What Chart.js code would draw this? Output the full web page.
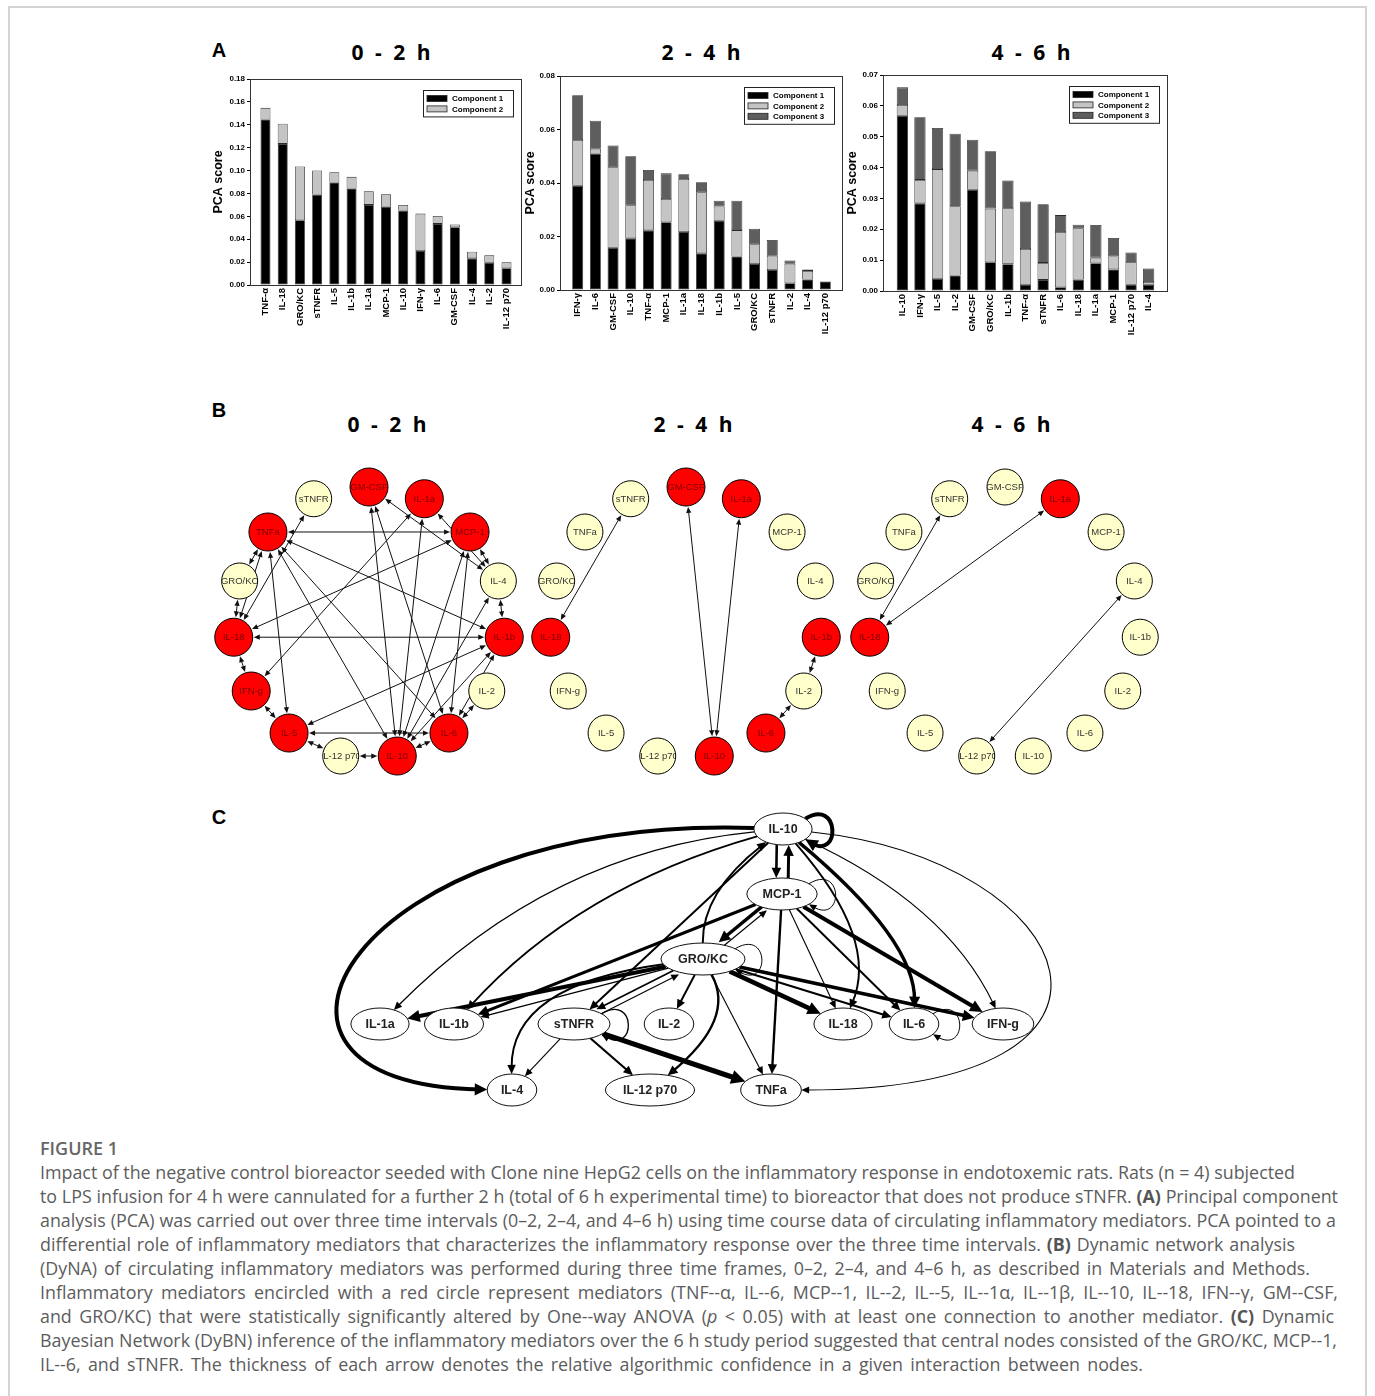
<!DOCTYPE html>
<html>
<head>
<meta charset="utf-8">
<title>Figure 1</title>
<script src="https://cdn.jsdelivr.net/npm/chart.js@4.4.1/dist/chart.umd.min.js"></script>
<style>
  html, body { margin: 0; padding: 0; background: #fff; }
  body { width: 1375px; height: 1396px; position: relative; overflow: hidden; font-family: 'Open Sans', sans-serif; }
  .frame { position: absolute; left: 8px; top: 6px; width: 1359px; height: 1420px; border: 2px solid #d4d4d4; box-sizing: border-box; }
  canvas { position: absolute; }
  .letter { position: absolute; font: bold 20px 'Liberation Sans', Arial, sans-serif; color: #000; transform: translate(-50%, -50%); }
  .ttl { position: absolute; font: bold 21px 'Open Sans', sans-serif; word-spacing: 6px; color: #000; transform: translate(-50%, -50%); white-space: nowrap; }
  .cap-head { position: absolute; left: 40px; top: 1136px; font: 600 18px/24px 'Open Sans', sans-serif; color: #666; }
  .cap { position: absolute; left: 40px; top: 1160px; font-family: 'Open Sans', sans-serif; font-size: 17px; line-height: 24px; color: #5c5c5c; }
  .cap div { white-space: nowrap; height: 24px; }
  .cap b { font-weight: 700; color: #555; }
</style>
</head>
<body>
<div class="frame"></div>

<div class="letter" style="left:219px;top:50px">A</div>
<div class="ttl" style="left:391px;top:52px">0 - 2 h</div>
<div class="ttl" style="left:701px;top:52px">2 - 4 h</div>
<div class="ttl" style="left:1031px;top:52px">4 - 6 h</div>

<div class="letter" style="left:219px;top:410px">B</div>
<div class="ttl" style="left:387px;top:424px">0 - 2 h</div>
<div class="ttl" style="left:693px;top:424px">2 - 4 h</div>
<div class="ttl" style="left:1011px;top:424px">4 - 6 h</div>

<div class="letter" style="left:219px;top:817px">C</div>

<canvas id="pca02" width="325" height="275" style="left:205px;top:66px"></canvas>
<canvas id="pca24" width="330" height="280" style="left:520px;top:62px"></canvas>
<canvas id="pca46" width="335" height="280" style="left:840px;top:62px"></canvas>

<canvas id="dyna02" width="340" height="340" style="left:199px;top:453px"></canvas>
<canvas id="dyna24" width="340" height="340" style="left:516px;top:453px"></canvas>
<canvas id="dyna46" width="340" height="340" style="left:835px;top:453px"></canvas>

<canvas id="dybn" width="800" height="320" style="left:320px;top:800px"></canvas>

<div class="cap-head">FIGURE 1</div>
<div class="cap" id="cap">
  <div data-w="1255"><span>Impact of the negative control bioreactor seeded with Clone nine HepG2 cells on the inflammatory response in endotoxemic rats. Rats (n = 4) subjected</span></div>
  <div data-w="1298"><span>to LPS infusion for 4 h were cannulated for a further 2 h (total of 6 h experimental time) to bioreactor that does not produce sTNFR. <b>(A)</b> Principal component</span></div>
  <div data-w="1296"><span>analysis (PCA) was carried out over three time intervals (0–2, 2–4, and 4–6 h) using time course data of circulating inflammatory mediators. PCA pointed to a</span></div>
  <div data-w="1255"><span>differential role of inflammatory mediators that characterizes the inflammatory response over the three time intervals. <b>(B)</b> Dynamic network analysis</span></div>
  <div data-w="1270"><span>(DyNA) of circulating inflammatory mediators was performed during three time frames, 0–2, 2–4, and 4–6 h, as described in Materials and Methods.</span></div>
  <div data-w="1298"><span>Inflammatory mediators encircled with a red circle represent mediators (TNF--α, IL--6, MCP--1, IL--2, IL--5, IL--1α, IL--1β, IL--10, IL--18, IFN--γ, GM--CSF,</span></div>
  <div data-w="1294"><span>and GRO/KC) that were statistically significantly altered by One--way ANOVA (<i>p</i> &lt; 0.05) with at least one connection to another mediator. <b>(C)</b> Dynamic</span></div>
  <div data-w="1297"><span>Bayesian Network (DyBN) inference of the inflammatory mediators over the 6 h study period suggested that central nodes consisted of the GRO/KC, MCP--1,</span></div>
  <div data-w="1103"><span>IL--6, and sTNFR. The thickness of each arrow denotes the relative algorithmic confidence in a given interaction between nodes.</span></div>
</div>

<script>
'use strict';

// ── Panel A: PCA scores (segment heights per component) ──
const labels02 = ['TNF-α', 'IL-18', 'GRO/KC', 'sTNFR', 'IL-5', 'IL-1b', 'IL-1a', 'MCP-1', 'IL-10', 'IFN-γ', 'IL-6', 'GM-CSF', 'IL-4', 'IL-2', 'IL-12 p70'];
const comp1_02 = [0.1446, 0.1233, 0.0566, 0.0790, 0.0895, 0.0843, 0.0700, 0.0685, 0.0650, 0.0297, 0.0534, 0.0504, 0.0233, 0.0195, 0.0146];
const comp2_02 = [0.0102, 0.0177, 0.0469, 0.0210, 0.0090, 0.0102, 0.0119, 0.0108, 0.0050, 0.0327, 0.0070, 0.0024, 0.0057, 0.0064, 0.0052];
const yTicks02 = ['0.00', '0.02', '0.04', '0.06', '0.08', '0.10', '0.12', '0.14', '0.16', '0.18'];

const labels24 = ['IFN-γ', 'IL-6', 'GM-CSF', 'IL-10', 'TNF-α', 'MCP-1', 'IL-1a', 'IL-18', 'IL-1b', 'IL-5', 'GRO/KC', 'sTNFR', 'IL-2', 'IL-4', 'IL-12 p70'];
const comp1_24 = [0.0390, 0.0510, 0.0158, 0.0193, 0.0223, 0.0253, 0.0217, 0.0137, 0.0259, 0.0125, 0.0097, 0.0075, 0.0025, 0.0039, 0.0032];
const comp2_24 = [0.0171, 0.0018, 0.0301, 0.0124, 0.0188, 0.0087, 0.0198, 0.0228, 0.0053, 0.0099, 0.0074, 0.0053, 0.0073, 0.0032, 0.0000];
const comp3_24 = [0.0167, 0.0105, 0.0081, 0.0183, 0.0038, 0.0096, 0.0018, 0.0038, 0.0022, 0.0110, 0.0058, 0.0059, 0.0012, 0.0006, 0.0000];
const yTicks24 = ['0.00', '0.02', '0.04', '0.06', '0.08'];

const labels46 = ['IL-10', 'IFN-γ', 'IL-5', 'IL-2', 'GM-CSF', 'GRO/KC', 'IL-1b', 'TNF-α', 'sTNFR', 'IL-6', 'IL-18', 'IL-1a', 'MCP-1', 'IL-12 p70', 'IL-4'];
const comp1_46 = [0.0568, 0.0284, 0.0040, 0.0050, 0.0328, 0.0093, 0.0087, 0.0020, 0.0036, 0.0012, 0.0037, 0.0090, 0.0070, 0.0020, 0.0020];
const comp2_46 = [0.0035, 0.0076, 0.0355, 0.0225, 0.0062, 0.0174, 0.0182, 0.0116, 0.0055, 0.0179, 0.0166, 0.0018, 0.0042, 0.0074, 0.0009];
const comp3_46 = [0.0057, 0.0203, 0.0133, 0.0235, 0.0100, 0.0186, 0.0089, 0.0154, 0.0190, 0.0055, 0.0012, 0.0106, 0.0060, 0.0031, 0.0044];
const yTicks46 = ['0.00', '0.01', '0.02', '0.03', '0.04', '0.05', '0.06', '0.07'];

// ── Panel B: DyNA networks (circle order, significant nodes, links) ──
const dynaNodes = ['GM-CSF', 'IL-1a', 'MCP-1', 'IL-4', 'IL-1b', 'IL-2', 'IL-6', 'IL-10', 'IL-12 p70', 'IL-5', 'IFN-g', 'IL-18', 'GRO/KC', 'TNFa', 'sTNFR'];
const sig02 = ['GM-CSF', 'IL-1a', 'MCP-1', 'IL-1b', 'IL-6', 'IL-10', 'IL-5', 'IFN-g', 'IL-18', 'TNFa'];
const sig24 = ['GM-CSF', 'IL-1a', 'IL-1b', 'IL-6', 'IL-10', 'IL-18'];
const sig46 = ['IL-1a', 'IL-18'];
const links02 = [
  ['TNFa', 'MCP-1'], ['TNFa', 'IL-1b'], ['TNFa', 'IL-10'], ['TNFa', 'IL-6'], ['TNFa', 'IL-5'], ['TNFa', 'IL-18'],
  ['GRO/KC', 'TNFa'], ['GRO/KC', 'IL-18'], ['sTNFR', 'IL-18'],
  ['GM-CSF', 'IL-10'], ['GM-CSF', 'IL-6'], ['GM-CSF', 'IL-4'],
  ['IL-1a', 'IL-10'], ['IL-1a', 'IFN-g'], ['IL-1a', 'IL-4'],
  ['MCP-1', 'IL-18'], ['MCP-1', 'IL-10'], ['MCP-1', 'IL-6'], ['MCP-1', 'IL-4'],
  ['IL-4', 'IL-1b'], ['IL-4', 'IL-10'], ['IL-18', 'IL-1b'], ['IL-18', 'IFN-g'],
  ['IL-1b', 'IL-5'], ['IL-1b', 'IL-10'], ['IL-1b', 'IL-6'], ['IL-2', 'IL-6'],
  ['IL-5', 'IL-6'], ['IL-5', 'IL-12 p70'], ['IL-12 p70', 'IL-10'], ['IL-10', 'IL-6'], ['IFN-g', 'IL-5'],
];
const links24 = [['sTNFR', 'IL-18'], ['GM-CSF', 'IL-10'], ['IL-1a', 'IL-10'], ['IL-2', 'IL-1b'], ['IL-2', 'IL-6']];
const links46 = [['sTNFR', 'IL-18'], ['IL-1a', 'IL-18'], ['IL-4', 'IL-12 p70']];

// ── Panel C: DyBN (layout position, edges with relative confidence 0..1) ──
const dybnNodes = ['IL-10', 'MCP-1', 'GRO/KC', 'IL-1a', 'IL-1b', 'sTNFR', 'IL-2', 'IL-18', 'IL-6', 'IFN-g', 'IL-4', 'IL-12 p70', 'TNFa'];
const dybnX = [463, 462, 383, 60, 134, 254, 349, 523, 594, 683, 192, 330, 451];
const dybnY = [29, 94, 159, 224, 224, 224, 224, 224, 224, 224, 290, 290, 290];
const dybnEdges = [
  ['IL-10', 'IL-4', 0.75], ['IL-10', 'IL-1a', 0.1], ['IL-10', 'IL-1b', 0.25], ['IL-10', 'sTNFR', 0.25],
  ['GRO/KC', 'IL-10', 0.25], ['IL-10', 'MCP-1', 0.4], ['MCP-1', 'IL-10', 0.5],
  ['IL-10', 'IL-10', 0.75], ['MCP-1', 'MCP-1', 0.02], ['GRO/KC', 'GRO/KC', 0.02], ['sTNFR', 'sTNFR', 0.1], ['IL-6', 'IL-6', 0.02],
  ['MCP-1', 'GRO/KC', 0.6], ['GRO/KC', 'MCP-1', 0.05], ['MCP-1', 'IL-1b', 0.5], ['GRO/KC', 'IL-1a', 0.75],
  ['GRO/KC', 'IL-1b', 0.1], ['GRO/KC', 'sTNFR', 0.2], ['sTNFR', 'GRO/KC', 0.05], ['GRO/KC', 'IL-2', 0.25],
  ['GRO/KC', 'IL-4', 0.25], ['GRO/KC', 'IL-12 p70', 0.35], ['GRO/KC', 'TNFa', 0.05], ['MCP-1', 'TNFa', 0.35],
  ['MCP-1', 'IL-18', 0.05], ['MCP-1', 'IL-6', 0.25], ['MCP-1', 'IFN-g', 0.75], ['GRO/KC', 'IL-18', 0.85],
  ['GRO/KC', 'IL-6', 0.3], ['GRO/KC', 'IFN-g', 0.65], ['sTNFR', 'IL-4', 0.05], ['sTNFR', 'IL-12 p70', 0.3],
  ['sTNFR', 'TNFa', 1.0], ['IL-10', 'IL-18', 0.25], ['IL-10', 'IL-6', 0.6], ['IL-10', 'IFN-g', 0.05], ['IL-10', 'TNFa', 0.05],
];
// edge routing (control points in layout units, or parallel shift)
const dybnRoutes = {
  'IL-10>IL-4': { c: [[30, 15], [-120, 285]] },
  'IL-10>IL-1a': { c: [[230, 52]] },
  'IL-10>IL-1b': { c: [[258, 87]] },
  'GRO/KC>IL-10': { c: [[382, 92]] },
  'IL-10>MCP-1': { shift: 6 },
  'MCP-1>IL-10': { shift: 6 },
  'MCP-1>GRO/KC': { shift: 3 },
  'GRO/KC>MCP-1': { shift: 3 },
  'GRO/KC>sTNFR': { shift: 3 },
  'sTNFR>GRO/KC': { shift: 3 },
  'GRO/KC>IL-4': { c: [[190, 185]] },
  'GRO/KC>IL-12 p70': { c: [[416, 219]] },
  'IL-10>IL-18': { c: [[560, 140]] },
  'IL-10>IL-6': { c: [[596, 140]] },
  'IL-10>IFN-g': { c: [[626, 104]] },
  'IL-10>TNFa': { c: [[760, 60], [860, 290]] },
};

Chart.defaults.font.family = "'Liberation Sans', Arial, sans-serif";
Chart.defaults.color = '#000';
Chart.defaults.animation = false;
Chart.defaults.events = [];

// ── Shared plugins ───────────────────────────
const plotFrame = {
  id: 'plotFrame',
  afterDraw(chart) {
    const { ctx, chartArea: a } = chart;
    ctx.save();
    ctx.strokeStyle = '#333';
    ctx.lineWidth = 1;
    ctx.strokeRect(Math.round(a.left) + 0.5, Math.round(a.top) + 0.5, Math.round(a.width) - 1, Math.round(a.height));
    ctx.restore();
  },
};

const legendBox = {
  id: 'legendBox',
  afterDraw(chart) {
    const { ctx, chartArea: a } = chart;
    const sets = chart.data.datasets;
    const w = 90, rowH = 10.4;
    const h = 16 + rowH * (sets.length - 1);
    const x = Math.round(a.right - 9 - w), y = Math.round(a.top + 11);
    ctx.save();
    ctx.fillStyle = '#fff';
    ctx.fillRect(x, y, w, h);
    ctx.strokeStyle = '#222';
    ctx.lineWidth = 1;
    ctx.strokeRect(x + 0.5, y + 0.5, w, h);
    ctx.font = "bold 8px 'Liberation Sans', Arial, sans-serif";
    ctx.textBaseline = 'middle';
    sets.forEach((ds, i) => {
      const cy = y + 8.5 + rowH * i;
      ctx.fillStyle = ds.backgroundColor;
      ctx.fillRect(x + 4, cy - 3, 20, 6);
      ctx.lineWidth = 0.8;
      ctx.strokeRect(x + 4, cy - 3, 20, 6);
      ctx.fillStyle = '#000';
      ctx.fillText(ds.label, x + 29, cy + 0.5);
    });
    ctx.restore();
  },
};

// ── PCA stacked bar chart ────────────────────
function renderPcaChart(id, labels, comps, yTicks, xRange, box) {
  const fills = ['#000000', '#c4c4c4', '#5e5e5e'];
  return new Chart(document.getElementById(id), {
    type: 'bar',
    data: {
      datasets: comps.map((vals, k) => ({
        label: 'Component ' + (k + 1),
        data: vals.map((v, i) => ({ x: i, y: v })),
        backgroundColor: fills[k],
        borderColor: '#2a2a2a',
        borderWidth: 0.8,
        borderSkipped: false,
        categoryPercentage: 1,
        barPercentage: box.bar,
      })),
    },
    options: {
      responsive: false,
      layout: { padding: { top: box.top, right: box.right, left: 0, bottom: 0 } },
      plugins: { legend: { display: false }, tooltip: { enabled: false } },
      scales: {
        x: {
          type: 'linear', stacked: true, offset: false, bounds: 'data', min: xRange[0], max: xRange[1],
          grid: { display: false, drawTicks: false, offset: false }, border: { display: false },
          afterBuildTicks: s => { s.ticks = labels.map((_, i) => ({ value: i })); },
          afterFit: s => { s.height = box.xh; },
          ticks: {
            autoSkip: false, minRotation: 90, maxRotation: 90, padding: 3,
            font: { size: 9.5, weight: 'bold' }, callback: (v, i) => labels[i],
          },
        },
        y: {
          stacked: true, bounds: 'data', min: 0, max: +yTicks[yTicks.length - 1],
          grid: { drawOnChartArea: false, tickLength: 3, color: '#000' },
          border: { display: false },
          afterBuildTicks: s => { s.ticks = yTicks.map(t => ({ value: +t })); },
          afterFit: s => { s.width = box.yw; },
          ticks: { padding: 2, font: { size: 8, weight: 'bold' }, callback: (v, i) => yTicks[i] },
          title: {
            display: true, text: 'PCA score', color: '#000',
            font: { size: 12.5, weight: 'bold' }, padding: { top: box.tp, bottom: 0 },
          },
        },
      },
    },
    plugins: [plotFrame, legendBox],
  });
}

// ── Geometry helpers ─────────────────────────
function arrowHead(ctx, tip, from, len, hw) {
  const ang = Math.atan2(tip[1] - from[1], tip[0] - from[0]);
  const bx = tip[0] - len * Math.cos(ang), by = tip[1] - len * Math.sin(ang);
  ctx.beginPath();
  ctx.moveTo(tip[0], tip[1]);
  ctx.lineTo(bx + hw * Math.sin(ang), by - hw * Math.cos(ang));
  ctx.lineTo(bx - hw * Math.sin(ang), by + hw * Math.cos(ang));
  ctx.closePath();
  ctx.fill();
}

function ellipseHit(cx, cy, rx, ry, tx, ty) {
  const dx = tx - cx, dy = ty - cy;
  const t = 1 / Math.sqrt((dx * dx) / (rx * rx) + (dy * dy) / (ry * ry));
  return [cx + dx * t, cy + dy * t];
}

// ── DyNA circle network ──────────────────────
function makeDynaPlugin(links, sig) {
  return {
    id: 'dynaNet',
    beforeDatasetsDraw(chart) {
      const { ctx } = chart;
      const pts = chart.getDatasetMeta(0).data;
      const radius = i => pts[i].options.radius;
      ctx.save();
      ctx.strokeStyle = '#111';
      ctx.fillStyle = '#111';
      ctx.lineWidth = 1;
      links.forEach(([a, b]) => {
        const i = dynaNodes.indexOf(a), j = dynaNodes.indexOf(b);
        const p = pts[i], q = pts[j];
        const dx = q.x - p.x, dy = q.y - p.y, L = Math.hypot(dx, dy);
        const ux = dx / L, uy = dy / L;
        const s = [p.x + ux * (radius(i) + 1), p.y + uy * (radius(i) + 1)];
        const e = [q.x - ux * (radius(j) + 1), q.y - uy * (radius(j) + 1)];
        ctx.beginPath();
        ctx.moveTo(s[0] + ux * 4, s[1] + uy * 4);
        ctx.lineTo(e[0] - ux * 4, e[1] - uy * 4);
        ctx.stroke();
        arrowHead(ctx, e, s, 6, 2.6);
        arrowHead(ctx, s, e, 6, 2.6);
      });
      ctx.restore();
    },
    afterDatasetsDraw(chart) {
      const { ctx } = chart;
      const pts = chart.getDatasetMeta(0).data;
      ctx.save();
      ctx.font = "9.5px 'Liberation Sans', Arial, sans-serif";
      ctx.textAlign = 'center';
      ctx.textBaseline = 'middle';
      dynaNodes.forEach((name, i) => {
        const p = pts[i];
        ctx.save();
        ctx.beginPath();
        ctx.arc(p.x, p.y, p.options.radius - 0.5, 0, Math.PI * 2);
        ctx.clip();
        ctx.fillStyle = sig.includes(name) ? '#7a0000' : '#333';
        ctx.fillText(name, p.x, p.y + 0.5);
        ctx.restore();
      });
      ctx.restore();
    },
  };
}

function renderDynaChart(id, links, sig) {
  const R = 136;
  return new Chart(document.getElementById(id), {
    type: 'scatter',
    data: {
      datasets: [{
        data: dynaNodes.map((_, i) => {
          const a = (-90 + i * 360 / dynaNodes.length) * Math.PI / 180;
          return { x: R * Math.cos(a), y: R * Math.sin(a) };
        }),
        pointRadius: dynaNodes.map(n => (sig.includes(n) ? 19 : 18)),
        pointHoverRadius: dynaNodes.map(n => (sig.includes(n) ? 19 : 18)),
        backgroundColor: dynaNodes.map(n => (sig.includes(n) ? '#ff0000' : '#ffffcc')),
        borderColor: '#000',
        borderWidth: 1,
        clip: false,
      }],
    },
    options: {
      responsive: false,
      layout: { padding: 0, autoPadding: false },
      plugins: { legend: { display: false }, tooltip: { enabled: false } },
      scales: {
        x: { display: false, min: -170, max: 170 },
        y: { display: false, min: -170, max: 170, reverse: true },
      },
    },
    plugins: [makeDynaPlugin(links, sig)],
  });
}

// ── DyBN network ─────────────────────────────
const dybnPlugin = {
  id: 'dybnNet',
  afterDatasetsDraw(chart) {
    const { ctx } = chart;
    const xs = chart.scales.x, ys = chart.scales.y;
    const pts = chart.getDatasetMeta(0).data;
    const font = "bold 12.5px 'Liberation Sans', Arial, sans-serif";
    ctx.save();
    ctx.font = font;
    const nodes = {};
    dybnNodes.forEach((name, i) => {
      const w = ctx.measureText(name).width;
      nodes[name] = { x: pts[i].x, y: pts[i].y, rx: 0.62 * w + 11, ry: 16 };
    });
    const toPx = p => [xs.getPixelForValue(p[0]), ys.getPixelForValue(p[1])];

    ctx.strokeStyle = '#000';
    ctx.fillStyle = '#000';
    ctx.lineCap = 'butt';
    dybnEdges.forEach(([from, to, conf]) => {
      const lw = 0.9 + 4.2 * conf;
      const len = 6 + 1.6 * lw, hw = 2.5 + 0.9 * lw;
      const a = nodes[from], b = nodes[to];
      ctx.lineWidth = lw;
      if (from === to) {
        const a0 = -40 * Math.PI / 180, a1 = 40 * Math.PI / 180, reach = 35;
        const p0 = [a.x + a.rx * Math.cos(a0), a.y + a.ry * Math.sin(a0)];
        const p1 = [a.x + a.rx * Math.cos(a1), a.y + a.ry * Math.sin(a1)];
        const c1 = [p0[0] + reach, p0[1] - reach * 0.6];
        const c2 = [p1[0] + reach, p1[1] + reach * 0.6];
        const d = Math.hypot(p1[0] - c2[0], p1[1] - c2[1]);
        const back = [p1[0] - (p1[0] - c2[0]) / d * len * 0.6, p1[1] - (p1[1] - c2[1]) / d * len * 0.6];
        ctx.beginPath();
        ctx.moveTo(p0[0], p0[1]);
        ctx.bezierCurveTo(c1[0], c1[1], c2[0], c2[1], back[0], back[1]);
        ctx.stroke();
        arrowHead(ctx, p1, c2, len, hw);
        return;
      }
      const route = dybnRoutes[from + '>' + to] || {};
      const ctrl = (route.c || []).map(toPx);
      let off = [0, 0];
      if (route.shift) {
        const dx = b.x - a.x, dy = b.y - a.y, L = Math.hypot(dx, dy);
        off = [-dy / L * route.shift, dx / L * route.shift];
      }
      const firstAim = ctrl.length ? ctrl[0] : [b.x, b.y];
      const lastAim = ctrl.length ? ctrl[ctrl.length - 1] : [a.x, a.y];
      const h0 = ellipseHit(a.x, a.y, a.rx, a.ry, firstAim[0], firstAim[1]);
      const h1 = ellipseHit(b.x, b.y, b.rx, b.ry, lastAim[0], lastAim[1]);
      const p0 = [h0[0] + off[0], h0[1] + off[1]];
      const tip = [h1[0] + off[0], h1[1] + off[1]];
      const from2 = ctrl.length ? ctrl[ctrl.length - 1] : p0;
      const d = Math.hypot(tip[0] - from2[0], tip[1] - from2[1]);
      const back = [tip[0] - (tip[0] - from2[0]) / d * len * 0.6, tip[1] - (tip[1] - from2[1]) / d * len * 0.6];
      ctx.beginPath();
      ctx.moveTo(p0[0], p0[1]);
      if (ctrl.length === 2) ctx.bezierCurveTo(ctrl[0][0], ctrl[0][1], ctrl[1][0], ctrl[1][1], back[0], back[1]);
      else if (ctrl.length === 1) ctx.quadraticCurveTo(ctrl[0][0], ctrl[0][1], back[0], back[1]);
      else ctx.lineTo(back[0], back[1]);
      ctx.stroke();
      arrowHead(ctx, tip, from2, len, hw);
    });

    ctx.lineWidth = 1;
    ctx.textAlign = 'center';
    ctx.textBaseline = 'middle';
    dybnNodes.forEach(name => {
      const n = nodes[name];
      ctx.beginPath();
      ctx.ellipse(n.x, n.y, n.rx, n.ry, 0, 0, Math.PI * 2);
      ctx.fillStyle = '#fff';
      ctx.fill();
      ctx.strokeStyle = '#111';
      ctx.stroke();
      ctx.fillStyle = '#222';
      ctx.fillText(name, n.x, n.y + 0.5);
    });
    ctx.restore();
  },
};

function renderDybnChart(id) {
  return new Chart(document.getElementById(id), {
    type: 'scatter',
    data: {
      datasets: [{
        data: dybnNodes.map((_, i) => ({ x: dybnX[i], y: dybnY[i] })),
        pointRadius: 0,
        pointHoverRadius: 0,
        clip: false,
      }],
    },
    options: {
      responsive: false,
      layout: { padding: 0, autoPadding: false },
      plugins: { legend: { display: false }, tooltip: { enabled: false } },
      scales: {
        x: { display: false, min: 0, max: 800 },
        y: { display: false, min: 0, max: 320, reverse: true },
      },
    },
    plugins: [dybnPlugin],
  });
}

// ── Caption line fitting ─────────────────────
function fitCaption() {
  const cap = document.getElementById('cap');
  const lines = [...cap.querySelectorAll(':scope > div')];
  cap.style.fontSize = '17px';
  let scale = Infinity;
  lines.forEach(div => {
    const w = div.firstElementChild.getBoundingClientRect().width;
    scale = Math.min(scale, +div.dataset.w / w);
  });
  cap.style.fontSize = (17 * scale).toFixed(3) + 'px';
  lines.forEach(div => {
    const span = div.firstElementChild;
    const w = span.getBoundingClientRect().width;
    const gaps = span.textContent.split(' ').length - 1;
    span.style.wordSpacing = Math.max(0, (+div.dataset.w - w) / gaps).toFixed(3) + 'px';
  });
}

renderPcaChart('pca02', labels02, [comp1_02, comp2_02], yTicks02, [-0.9, 14.9],
  { top: 13, right: 8, yw: 45, xh: 56, tp: 6.5, bar: 0.58 });
renderPcaChart('pca24', labels24, [comp1_24, comp2_24, comp3_24], yTicks24, [-1, 15],
  { top: 14, right: 7, yw: 40, xh: 52, tp: 3.5, bar: 0.62 });
renderPcaChart('pca46', labels46, [comp1_46, comp2_46, comp3_46], yTicks46, [-1.1, 15.1],
  { top: 13, right: 7, yw: 43, xh: 51, tp: 5.5, bar: 0.64 });

renderDynaChart('dyna02', links02, sig02);
renderDynaChart('dyna24', links24, sig24);
renderDynaChart('dyna46', links46, sig46);

renderDybnChart('dybn');

if (document.fonts && document.fonts.ready) document.fonts.ready.then(fitCaption);
else fitCaption();
</script>
</body>
</html>
